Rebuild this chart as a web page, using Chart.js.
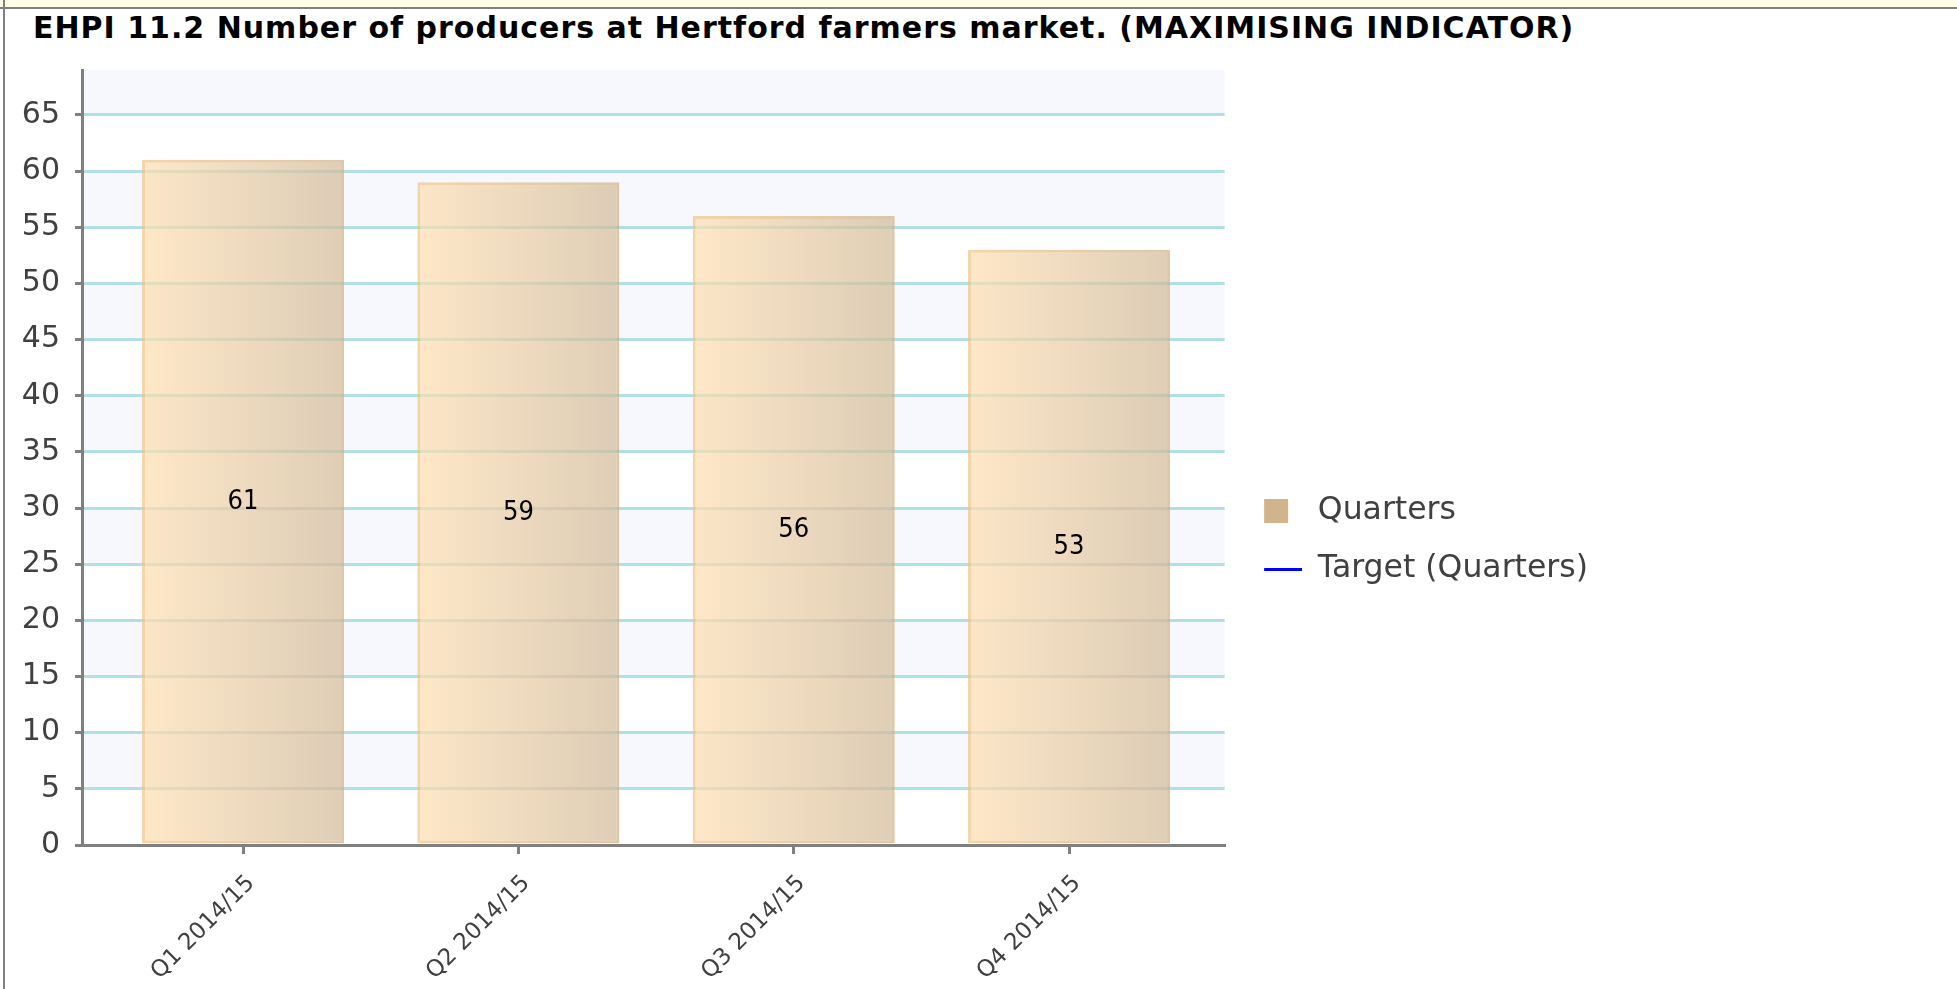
<!DOCTYPE html>
<html>
<head>
<meta charset="utf-8">
<script src="https://cdn.jsdelivr.net/npm/chart.js@4.4.1/dist/chart.umd.min.js"></script>
<style>
  html, body { margin: 0; padding: 0; background: #fff; overflow: hidden; }
  #topbar { position: absolute; left: 0; top: 0; width: 1957px; height: 7px; background: #ffffe7; border-bottom: 2px solid #808080; }
  #frame { position: absolute; left: 3px; top: 0; width: 1954px; height: 989px; border-left: 2px solid #808080; }
  h4 { position: absolute; left: 33px; top: 12px; margin: 0; font: bold 30px/32px 'DejaVu Sans', sans-serif; letter-spacing: 1px; color: #000; white-space: nowrap; }
  #box { position: absolute; left: 6px; top: 10px; width: 1951px; height: 1000px; }
</style>
</head>
<body>
<div id="topbar"></div>
<div id="frame"></div>
<h4>EHPI 11.2 Number of producers at Hertford farmers market. (MAXIMISING INDICATOR)</h4>
<div id="box"><canvas id="producersChart"></canvas></div>
<script>
const quarters = ['Q1 2014/15', 'Q2 2014/15', 'Q3 2014/15', 'Q4 2014/15'];
const producers = [61, 59, 56, 53];
const targets = [null, null, null, null];
const yTicks = [0, 5, 10, 15, 20, 25, 30, 35, 40, 45, 50, 55, 60, 65];

const barPct = 0.734;
const fillStops = ['rgba(254,222,176,0.7)', 'rgba(209,185,151,0.7)'];
const edgeStops = ['rgba(241,196,134,0.7)', 'rgba(205,176,134,0.7)'];

Chart.defaults.font.family = "'DejaVu Sans', sans-serif";

function barGradient(c, stops) {
  const xs = c.chart.scales.x;
  if (!xs || c.dataIndex === undefined) return stops[0];
  const mid = xs.getPixelForValue(c.dataIndex);
  const half = (xs.getPixelForValue(1) - xs.getPixelForValue(0)) * barPct / 2;
  if (!isFinite(mid) || !isFinite(half) || half <= 0) return stops[0];
  const g = c.chart.ctx.createLinearGradient(mid - half, 0, mid + half, 0);
  g.addColorStop(0, stops[0]);
  g.addColorStop(1, stops[1]);
  return g;
}

function legendIcon(draw) {
  const c = document.createElement('canvas');
  c.width = 51; c.height = 26;
  draw(c.getContext('2d'));
  return c;
}
const swatch = legendIcon(g => { g.fillStyle = '#d2b48c'; g.fillRect(13, 1, 24, 24); });
const lineIcon = legendIcon(g => { g.fillStyle = '#0000ff'; g.fillRect(13, 12, 38, 3); });

// alternating light bands behind the plot
const bands = {
  id: 'bands',
  beforeDraw(chart) {
    const { ctx, chartArea: a, scales: { y } } = chart;
    ctx.save();
    ctx.fillStyle = '#f7f8fd';
    yTicks.forEach(v => {
      if (v % 10 !== 5) return;
      const top = y.getPixelForValue(Math.min(v + 5, y.max));
      const bottom = y.getPixelForValue(v);
      ctx.fillRect(a.left, top, a.right - a.left, bottom - top);
    });
    ctx.restore();
  }
};

// value printed in the middle of each bar
const barValues = {
  id: 'barValues',
  afterDatasetsDraw(chart) {
    const g = chart.ctx;
    g.save();
    g.font = "27px 'DejaVu Sans Condensed', 'DejaVu Sans', sans-serif";
    g.fillStyle = '#000';
    g.textAlign = 'center';
    g.textBaseline = 'middle';
    chart.getDatasetMeta(0).data.forEach((bar, i) => {
      const { x, y, base } = bar.getProps(['x', 'y', 'base'], true);
      g.fillText(String(producers[i]), x, (y + base) / 2);
    });
    g.restore();
  }
};

new Chart(document.getElementById('producersChart'), {
  type: 'bar',
  data: {
    datasets: [{
      type: 'bar',
      label: 'Quarters',
      data: quarters.map((q, i) => ({ x: i, y: producers[i] })),
      backgroundColor: c => barGradient(c, fillStops),
      borderColor: c => barGradient(c, edgeStops),
      borderWidth: 3,
      borderSkipped: false,
      barPercentage: barPct,
      categoryPercentage: 1
    }, {
      type: 'line',
      label: 'Target (Quarters)',
      data: quarters.map((q, i) => ({ x: i, y: targets[i] })),
      borderColor: '#0000ff',
      borderWidth: 3,
      pointRadius: 0
    }]
  },
  options: {
    responsive: true,
    maintainAspectRatio: false,
    animation: false,
    layout: { padding: { left: 0, right: 359, top: 60, bottom: 0 } },
    plugins: {
      legend: {
        position: 'right',
        align: 'center',
        labels: {
          usePointStyle: true,
          pointStyleWidth: 51,
          padding: 26.5,
          color: '#404040',
          font: { size: 31.5 },
          generateLabels(chart) {
            const items = Chart.defaults.plugins.legend.labels.generateLabels(chart);
            items.forEach((it, i) => { it.pointStyle = i === 0 ? swatch : lineIcon; });
            return items;
          }
        }
      },
      tooltip: { enabled: false }
    },
    scales: {
      x: {
        type: 'linear',
        min: -0.585,
        max: 3.565,
        offset: false,
        afterBuildTicks: s => { s.ticks = quarters.map((q, i) => ({ value: i })); },
        afterFit: s => { s.height = 165; },
        ticks: {
          callback: v => quarters[v],
          minRotation: 45, maxRotation: 45, autoSkip: false,
          padding: 16, labelOffset: 8, color: '#404040', font: { size: 23 }
        },
        grid: { offset: false, drawOnChartArea: false, tickLength: 9, tickColor: '#808080', tickWidth: 3, lineWidth: 3 },
        border: { color: '#808080', width: 3, z: 1 }
      },
      y: {
        min: 0,
        max: 69,
        afterBuildTicks: s => { s.ticks = yTicks.map(v => ({ value: v })); },
        afterFit: s => { s.width = 76; },
        ticks: { padding: 15, color: '#404040', font: { size: 30 } },
        grid: { color: '#b0e0e6', lineWidth: 3, tickColor: '#808080', tickWidth: 3, tickLength: 7 },
        border: { color: '#808080', width: 3, z: 1 }
      }
    }
  },
  plugins: [bands, barValues]
});
</script>
</body>
</html>
